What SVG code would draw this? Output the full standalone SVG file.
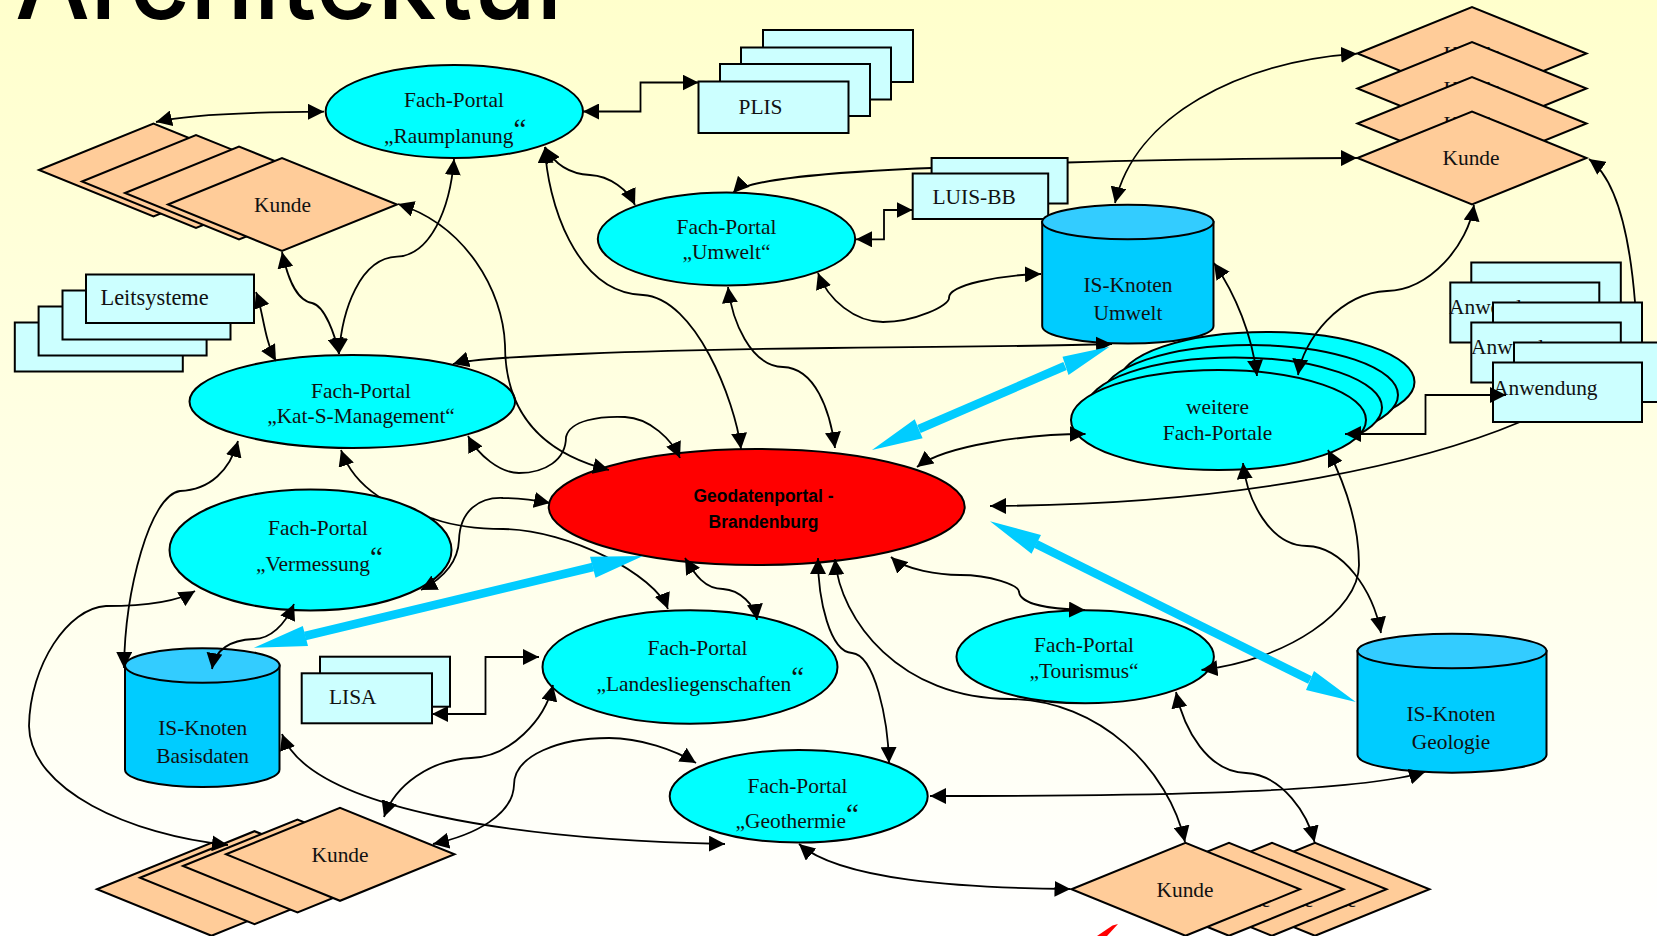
<svg xmlns="http://www.w3.org/2000/svg" width="1657" height="936" viewBox="0 0 1657 936">
<style>
text{font-family:"Liberation Serif","Times New Roman",serif;font-size:21.4px;fill:#111}
.m{text-anchor:middle}
.q{font-size:29px}
.title{font-family:Inter,"Liberation Sans",sans-serif;font-size:108px;font-weight:500;fill:#000}
.geo{font-family:"Liberation Sans",Arial,sans-serif;font-weight:700;font-size:17.5px;fill:#000;text-anchor:middle}
.n{stroke:#000;stroke-width:2;stroke-linejoin:miter}
.p{fill:#0ff}
.k{fill:#fc9}
.r{fill:#cff}
.c{fill:#0cf}
.l{fill:#3cf}
.e{fill:none;stroke:#000;stroke-width:1.8;marker-start:url(#a);marker-end:url(#a)}
.e1{fill:none;stroke:#000;stroke-width:1.8;marker-end:url(#a)}
.b{fill:none;stroke:#0cf;stroke-width:8.5}
.bh{fill:#0cf}
</style>
<defs>
<linearGradient id="bg" x1="0" y1="0" x2="0" y2="1"><stop offset="0" stop-color="#ffffcc"/><stop offset="1" stop-color="#ffffff"/></linearGradient>
<marker id="a" markerUnits="userSpaceOnUse" markerWidth="16" markerHeight="16" refX="15" refY="7.5" orient="auto-start-reverse" viewBox="0 0 15 15"><path d="M0,0L15,7.5L0,15Z" fill="#000"/></marker>
</defs>
<rect width="1657" height="936" fill="url(#bg)"/>
<text class="title" x="15" y="19" textLength="562" lengthAdjust="spacingAndGlyphs">Architektur</text>

<g id="connectors-behind">
<path class="e" d="M733,193C745,180 830,172 931.600,168L1067,162.500C1150,160 1250,158.500 1357,158"/>
<path class="e" d="M341,450C355,490 395,510 434,519C460,528 490,529 503,529C570,530 655,575 668,609"/>
<path class="e1" d="M1635,302C1630,240 1618,180 1589,159"/>
<path class="e1" d="M1520,422C1430,460 1250,505 990,506"/>
</g>

<g id="kunde-oben-links">
<polygon class="n k" points="39,170 153.500,123.500 268,170 153.500,216.500"/>
<polygon class="n k" points="82,181.500 196,135 311,181.500 196,228"/>
<polygon class="n k" points="125,193 239,146.500 354,193 239,239.500"/>
<polygon class="n k" points="168,204.500 282,158 397,204.500 282,251"/>
<text class="m" x="282.500" y="212">Kunde</text>
</g>
<g id="plis">
<rect class="n r" x="763" y="30" width="150" height="52"/>
<rect class="n r" x="741" y="47.500" width="150" height="52"/>
<rect class="n r" x="720" y="64" width="150" height="52"/>
<rect class="n r" x="698.500" y="81.500" width="150" height="51.500"/>
<text x="738.500" y="114">PLIS</text>
</g>
<g id="raumplanung">
<ellipse class="n p" cx="454.300" cy="111.500" rx="128.700" ry="46.500"/>
<text class="m" x="454" y="107">Fach-Portal</text>
<text x="384" y="143">„Raumplanung<tspan class="q" dy="-4">“</tspan></text>
</g>
<g id="umwelt">
<ellipse class="n p" cx="726.500" cy="239" rx="128.700" ry="46.500"/>
<text class="m" x="726.500" y="234">Fach-Portal</text>
<text class="m" x="726.500" y="259">„Umwelt“</text>
</g>
<g id="luis">
<rect class="n r" x="931.600" y="158" width="136" height="45.500"/>
<rect class="n r" x="912.700" y="173.500" width="135.500" height="45.500"/>
<text x="932.500" y="203.500">LUIS-BB</text>
</g>
<g id="kunde-oben-rechts">
<polygon class="n k" points="1357.500,53.500 1472,7 1586.500,53.500 1472,100"/>
<text class="m" x="1472" y="61">Kunde</text>
<polygon class="n k" points="1357.500,88.500 1472,42 1586.500,88.500 1472,135"/>
<text class="m" x="1472" y="96">Kunde</text>
<polygon class="n k" points="1357.500,123.500 1472,77 1586.500,123.500 1472,170"/>
<text class="m" x="1472" y="131">Kunde</text>
<polygon class="n k" points="1357.500,158 1472,111.500 1586.500,158 1472,204.500"/>
<text class="m" x="1471" y="165">Kunde</text>
</g>
<g id="is-umwelt">
<path class="n c" d="M1042.200,222V326C1042.200,336 1081,343.500 1128,343.500C1175,343.500 1213.500,336 1213.500,326V222Z"/>
<ellipse class="n l" cx="1127.800" cy="222" rx="85.700" ry="17.300"/>
<text class="m" x="1128" y="292">IS-Knoten</text>
<text class="m" x="1128" y="320">Umwelt</text>
</g>
<g id="leitsysteme">
<rect class="n r" x="14.800" y="322.500" width="168" height="49"/>
<rect class="n r" x="38.600" y="306.500" width="168" height="49"/>
<rect class="n r" x="62.500" y="290.500" width="168" height="49"/>
<rect class="n r" x="86" y="274.500" width="168" height="48.500"/>
<text x="100.500" y="305" style="font-size:22.400px">Leitsysteme</text>
</g>
<g id="kat-s">
<ellipse class="n p" cx="352.300" cy="401.500" rx="162.800" ry="46.500"/>
<text class="m" x="361" y="398">Fach-Portal</text>
<text class="m" x="361" y="423">„Kat-S-Management“</text>
</g>
<g id="anwendung">
<rect class="n r" x="1471.300" y="262.500" width="149.500" height="60"/>
<rect class="n r" x="1450.300" y="282.500" width="149" height="60"/>
<text x="1449" y="314">Anwendung</text>
<rect class="n r" x="1493" y="302.500" width="149" height="60"/>
<rect class="n r" x="1471.300" y="322.500" width="149.500" height="60"/>
<text x="1471" y="354">Anwendung</text>
<rect class="n r" x="1514" y="342.500" width="149" height="59.500"/>
<rect class="n r" x="1493" y="362.500" width="149" height="59.500"/>
<text x="1493" y="394.500">Anwendung</text>
</g>
<g id="weitere">
<ellipse class="n p" cx="1267" cy="382" rx="147.500" ry="50"/>
<ellipse class="n p" cx="1250.500" cy="395" rx="147.500" ry="50"/>
<ellipse class="n p" cx="1234.500" cy="407.500" rx="147.500" ry="50"/>
<ellipse class="n p" cx="1218.500" cy="420" rx="147.500" ry="50"/>
<text class="m" x="1217.500" y="414">weitere</text>
<text class="m" x="1217.500" y="440">Fach-Portale</text>
</g>
<g id="geodatenportal">
<ellipse class="n" fill="#f00" cx="756.700" cy="507" rx="208" ry="58"/>
<text class="geo" x="763.500" y="502">Geodatenportal -</text>
<text class="geo" x="763.500" y="528">Brandenburg</text>
</g>
<g id="vermessung">
<ellipse class="n p" cx="310.500" cy="550" rx="141" ry="60.500"/>
<text class="m" x="318" y="534.500">Fach-Portal</text>
<text x="256" y="570.500">„Vermessung<tspan class="q" dy="-4">“</tspan></text>
</g>
<g id="is-basisdaten">
<path class="n c" d="M125,665.500V769.500C125,779.500 160,787 202.500,787C245,787 279.500,779.500 279.500,769.500V665.500Z"/>
<ellipse class="n l" cx="202.300" cy="665.500" rx="77.300" ry="17.300"/>
<text class="m" x="202.700" y="735">IS-Knoten</text>
<text class="m" x="202.700" y="762.500">Basisdaten</text>
</g>
<g id="lisa">
<rect class="n r" x="320" y="656.700" width="130" height="50"/>
<rect class="n r" x="301.700" y="673.300" width="130.300" height="50"/>
<text x="329" y="704">LISA</text>
</g>
<g id="landesliegenschaften">
<ellipse class="n p" cx="690" cy="667" rx="147.500" ry="56.700"/>
<text class="m" x="697.500" y="654.500">Fach-Portal</text>
<text x="596.500" y="690.500">„Landesliegenschaften<tspan class="q" dy="-4">“</tspan></text>
</g>
<g id="tourismus">
<ellipse class="n p" cx="1085.200" cy="656.800" rx="128.700" ry="46.500"/>
<text class="m" x="1084" y="651.500">Fach-Portal</text>
<text class="m" x="1084" y="677.500">„Tourismus“</text>
</g>
<g id="is-geologie">
<path class="n c" d="M1357.500,651V755C1357.500,765 1400,772.700 1452,772.700C1504,772.700 1546.500,765 1546.500,755V651Z"/>
<ellipse class="n l" cx="1452" cy="651" rx="94.500" ry="17.300"/>
<text class="m" x="1451" y="721">IS-Knoten</text>
<text class="m" x="1451" y="748.500">Geologie</text>
</g>
<g id="geothermie">
<ellipse class="n p" cx="798.700" cy="796.300" rx="129" ry="46.300"/>
<text class="m" x="797.500" y="793">Fach-Portal</text>
<text x="735.500" y="828">„Geothermie<tspan class="q" dy="-4">“</tspan></text>
</g>
<g id="kunde-unten-links">
<polygon class="n k" points="97,889.300 211.500,842.800 326,889.300 211.500,935.800"/>
<polygon class="n k" points="140,877.700 254.500,831.200 369,877.700 254.500,924.200"/>
<polygon class="n k" points="183,866 297.500,819.500 412,866 297.500,912.500"/>
<polygon class="n k" points="226,854.300 340,807.800 454.500,854.300 340,900.800"/>
<text class="m" x="340" y="862">Kunde</text>
</g>
<g id="kunde-unten-rechts">
<polygon class="n k" points="1200.500,889.300 1315,842.800 1429.500,889.300 1315,935.800"/>
<text class="m" x="1328" y="907">Kunde</text>
<polygon class="n k" points="1157.500,889.300 1272,842.800 1386.500,889.300 1272,935.800"/>
<text class="m" x="1285" y="907">Kunde</text>
<polygon class="n k" points="1114.500,889.300 1229,842.800 1343.500,889.300 1229,935.800"/>
<text class="m" x="1242" y="907">Kunde</text>
<polygon class="n k" points="1071.500,889.300 1185.500,842.800 1300,889.300 1185.500,935.800"/>
<text class="m" x="1185" y="897">Kunde</text>
</g>
<polygon fill="#f00" points="1118,924 1112.500,925.500 1097,936 1107,936"/>

<g id="connectors">
<path class="e" d="M156,122C190,114 250,112 324,111.700"/>
<path class="e" d="M454,159C450,210 430,255 397,256.700C360,258 342,310 339,354"/>
<path class="e" d="M282,252C287,275 295,300 312,303C325,306 335,335 339,354"/>
<path class="e" d="M398,204C465,225 503,290 505,345C505,400 530,450 609,470"/>
<path class="e" d="M545,147C547,200 575,293 643,295C695,298 735,400 741,449"/>
<path class="e" d="M545,147C555,165 570,174 590,175C610,176 628,190 635,205"/>
<path class="e" d="M583,111.500H640.500V82.500H698.500"/>
<path class="e" d="M856,239.300H884V210H912.500"/>
<path class="e" d="M453,364C480,356 650,350 830,348C950,347 1050,346 1112,344"/>
<path class="e" d="M818,273C828,300 855,322 883,322C915,322 950,305 949,298C948,285 1000,275 1041,274"/>
<path class="e" d="M728,287C732,320 750,366 783,367C815,368 830,410 835,448"/>
<path class="e" d="M1357,53.700C1240,62 1135,115 1115,203"/>
<path class="e" d="M1214,263C1236,295 1252,335 1257,376"/>
<path class="e" d="M1474,205C1468,245 1430,290 1387,291C1340,293 1303,340 1298,375"/>
<path class="e" d="M1085.500,434C1030,434 945,445 917,467"/>
<path class="e" d="M1345,434H1425.500V395H1506"/>
<path class="e" d="M1243,463C1247,500 1270,546 1307,546C1343,547 1373,590 1381,633"/>
<path class="e" d="M1328,450C1348,490 1359,530 1359,565C1359,610 1288,660 1201.500,670"/>
<path class="e" d="M891,557C905,570 940,575 960,575C990,575 1019,585 1019,592C1021,605 1050,609 1085,610"/>
<path class="e" d="M835,559C840,620 900,699 1010,699C1100,700 1169,770 1185,842"/>
<path class="e" d="M818,558C818,600 830,652 852,653C875,655 888,720 889,763"/>
<path class="e" d="M685,558C695,575 705,589 723,589C740,590 755,605 757,620"/>
<path class="e" d="M468,436C478,455 500,473 519,473C545,473 566,460 566,437C570,420 600,416 625,417C650,418 672,440 680,458"/>
<path class="e" d="M421,590C440,580 458,565 459,540C460,510 480,497 503,498C520,498 535,500 550,503"/>
<path class="e" d="M294,604C285,625 270,639 254,639C230,640 215,650 212,669"/>
<path class="e" d="M238,441C230,470 210,490 180,491C150,495 125,590 124,668"/>
<path class="e" d="M195,591C175,603 140,606 106,606C68,608 30,665 29,726C30,790 130,835 228,845"/>
<path class="e" d="M553,685C545,720 510,757 471,758C430,760 395,785 384,817"/>
<path class="e" d="M433,844C475,835 513,815 514,785C514,755 560,738 609,738C640,738 675,750 696,763"/>
<path class="e" d="M432,714H485.500V657H539"/>
<path class="e" d="M282,734C310,810 520,840 725,844"/>
<path class="e" d="M930,796C1100,796 1348,795 1425,772"/>
<path class="e" d="M799,844C840,880 960,888 1070.500,889"/>
<path class="e" d="M1176,692C1184,730 1208,772 1246,773C1283,775 1308,815 1314.500,842"/>
<path class="e" d="M256,292C263,310 264,340 276,361"/>
<path class="b" d="M1065,366L919,429"/>
<path class="bh" d="M1109.500,346.700L1062.500,356.700L1068.500,375ZM872,450L914.700,419.300L922.600,438.300Z"/>
<path class="b" d="M593,567L305,636"/>
<path class="bh" d="M643,556L590,556.700L595.500,577.700ZM254,647.700L302.800,626L308,646Z"/>
<path class="b" d="M1036,544L1310,680"/>
<path class="bh" d="M990,521.300L1041,535L1031.500,553.700ZM1355.800,702L1314,671L1306,690Z"/>
</g>
</svg>
